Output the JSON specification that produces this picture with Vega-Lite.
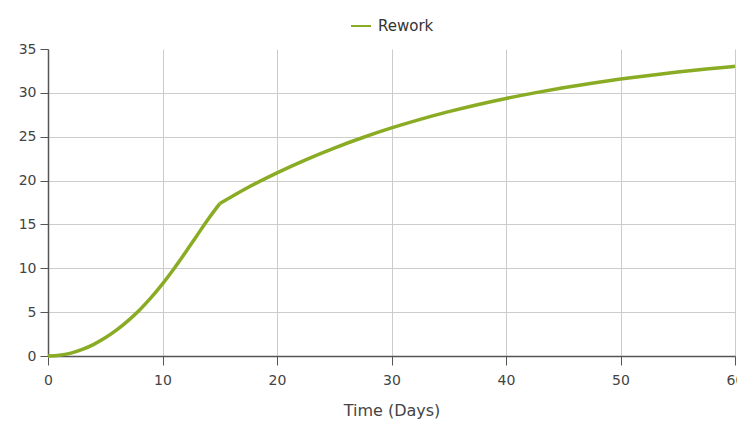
{
  "$schema": "https://vega.github.io/schema/vega-lite/v6.json",
  "width": 687,
  "height": 307,
  "autosize": {"type": "none"},
  "padding": {"left": 48, "top": 49, "right": 2, "bottom": 70},
  "background": "white",
  "config": {
    "view": {"stroke": null},
    "font": "DejaVu Sans",
    "axis": {
      "labelFont": "DejaVu Sans",
      "titleFont": "DejaVu Sans",
      "labelFontSize": 14,
      "labelColor": "#444444",
      "titleFontSize": 16,
      "titleFontWeight": "normal",
      "titleColor": "#444444",
      "gridColor": "#cccccc",
      "gridWidth": 1,
      "domainColor": "#555555",
      "domainWidth": 1.5,
      "tickColor": "#555555",
      "tickSize": 8,
      "labelPadding": 4
    },
    "legend": {
      "labelFont": "DejaVu Sans",
      "labelFontSize": 15,
      "labelColor": "#333333"
    }
  },
  "data": {
    "values": [
      {"t": 0, "v": 0, "seg": "a", "s": "Rework"},
      {"t": 1, "v": 0.08, "seg": "a", "s": "Rework"},
      {"t": 2, "v": 0.33, "seg": "a", "s": "Rework"},
      {"t": 3, "v": 0.75, "seg": "a", "s": "Rework"},
      {"t": 4, "v": 1.33, "seg": "a", "s": "Rework"},
      {"t": 5, "v": 2.07, "seg": "a", "s": "Rework"},
      {"t": 6, "v": 2.97, "seg": "a", "s": "Rework"},
      {"t": 7, "v": 4.03, "seg": "a", "s": "Rework"},
      {"t": 8, "v": 5.25, "seg": "a", "s": "Rework"},
      {"t": 9, "v": 6.65, "seg": "a", "s": "Rework"},
      {"t": 10, "v": 8.22, "seg": "a", "s": "Rework"},
      {"t": 11, "v": 9.95, "seg": "a", "s": "Rework"},
      {"t": 12, "v": 11.8, "seg": "a", "s": "Rework"},
      {"t": 13, "v": 13.72, "seg": "a", "s": "Rework"},
      {"t": 14, "v": 15.62, "seg": "a", "s": "Rework"},
      {"t": 15, "v": 17.37, "seg": "a", "s": "Rework"},
      {"t": 15, "v": 17.37, "seg": "b", "s": "Rework"},
      {"t": 17.5, "v": 19.23, "seg": "b", "s": "Rework"},
      {"t": 20, "v": 20.88, "seg": "b", "s": "Rework"},
      {"t": 22.5, "v": 22.37, "seg": "b", "s": "Rework"},
      {"t": 25, "v": 23.71, "seg": "b", "s": "Rework"},
      {"t": 27.5, "v": 24.91, "seg": "b", "s": "Rework"},
      {"t": 30, "v": 26.0, "seg": "b", "s": "Rework"},
      {"t": 32.5, "v": 26.98, "seg": "b", "s": "Rework"},
      {"t": 35, "v": 27.86, "seg": "b", "s": "Rework"},
      {"t": 37.5, "v": 28.65, "seg": "b", "s": "Rework"},
      {"t": 40, "v": 29.36, "seg": "b", "s": "Rework"},
      {"t": 42.5, "v": 30.0, "seg": "b", "s": "Rework"},
      {"t": 45, "v": 30.58, "seg": "b", "s": "Rework"},
      {"t": 47.5, "v": 31.1, "seg": "b", "s": "Rework"},
      {"t": 50, "v": 31.57, "seg": "b", "s": "Rework"},
      {"t": 52.5, "v": 31.99, "seg": "b", "s": "Rework"},
      {"t": 55, "v": 32.37, "seg": "b", "s": "Rework"},
      {"t": 57.5, "v": 32.71, "seg": "b", "s": "Rework"},
      {"t": 60, "v": 33.02, "seg": "b", "s": "Rework"}
    ]
  },
  "mark": {"type": "line", "interpolate": "monotone", "strokeWidth": 3.5, "strokeJoin": "round", "clip": false},
  "encoding": {
    "x": {
      "field": "t",
      "type": "quantitative",
      "title": "Time (Days)",
      "scale": {"domain": [0, 60], "nice": false},
      "axis": {"values": [0, 10, 20, 30, 40, 50, 60], "titlePadding": 15, "labelFlush": false, "tickSize": 9, "labelPadding": 8}
    },
    "y": {
      "field": "v",
      "type": "quantitative",
      "title": null,
      "scale": {"domain": [0, 35], "nice": false},
      "axis": {
        "values": [0, 5, 10, 15, 20, 25, 30, 35],
        "gridOpacity": {"condition": {"test": "datum.value == 35", "value": 0}, "value": 1}
      }
    },
    "detail": {"field": "seg", "type": "nominal"},
    "color": {
      "field": "s",
      "type": "nominal",
      "scale": {"range": ["#8aac24"]},
      "legend": {
        "title": null,
        "orient": "none",
        "legendX": 302,
        "legendY": -34,
        "symbolType": "stroke",
        "symbolSize": 400,
        "symbolStrokeWidth": 2,
        "symbolStrokeColor": "#b8cf72",
        "labelOffset": 6
      }
    }
  }
}
